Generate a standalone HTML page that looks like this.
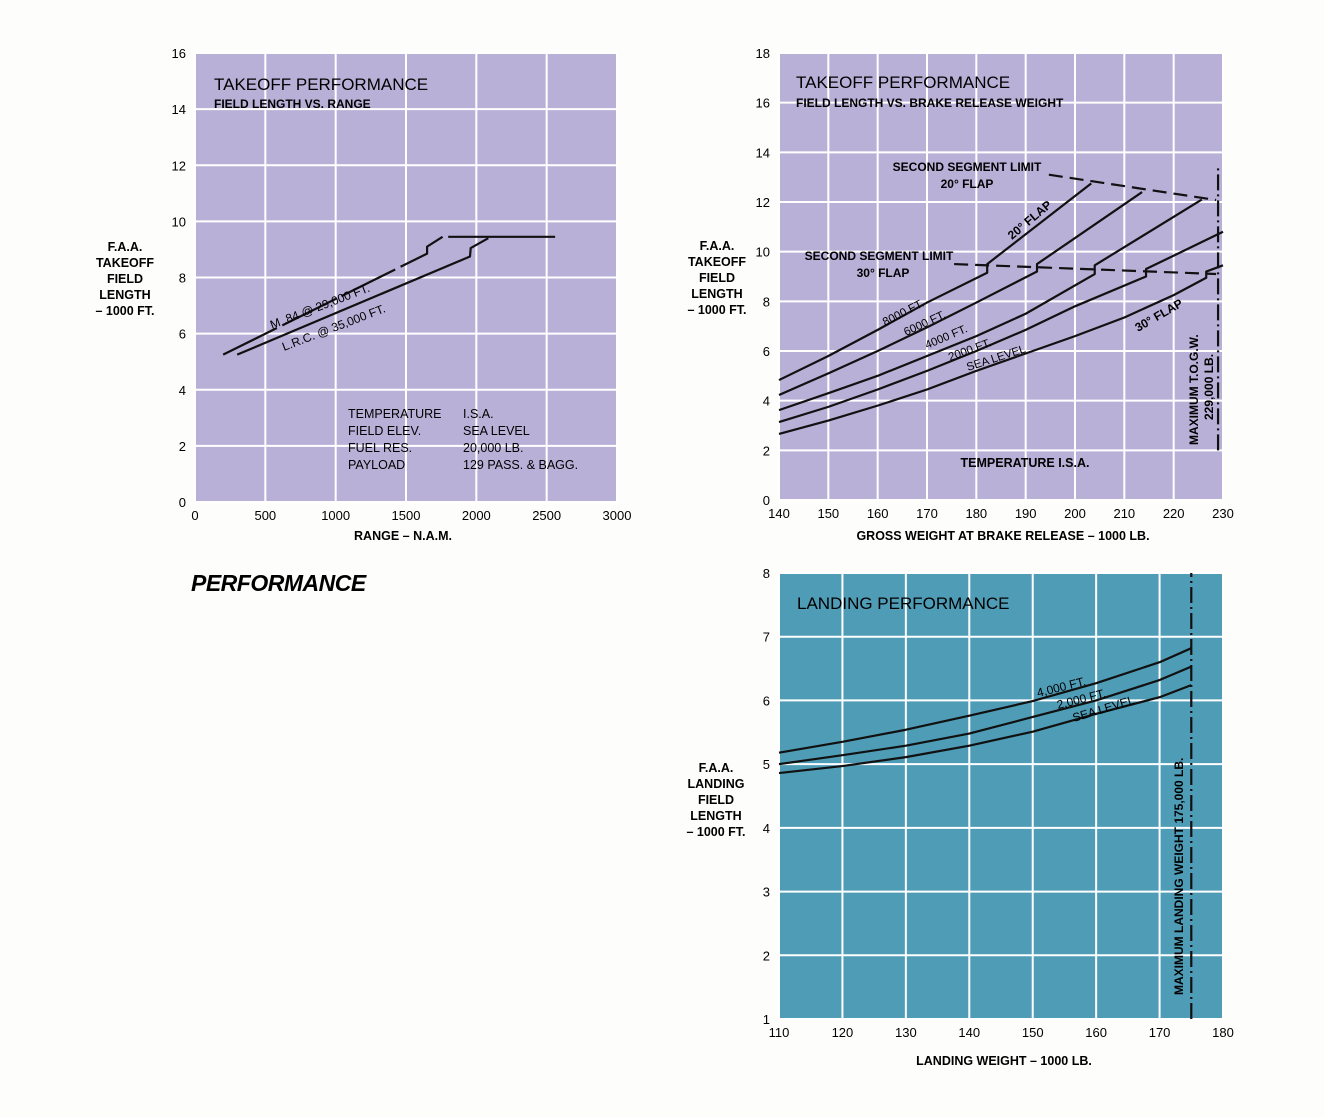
<!DOCTYPE html>
<html><head><meta charset="utf-8">
<style>
body{margin:0;background:#fff;}
svg{display:block;font-family:"Liberation Sans",sans-serif;}
</style></head>
<body>
<svg id="s" width="1324" height="1117" viewBox="0 0 1324 1117">
<rect x="0" y="0" width="1324" height="1117" fill="#fdfdfc"/>
<text x="191" y="591" font-size="23" font-weight="bold" font-style="italic" letter-spacing="-0.5">PERFORMANCE</text>
</svg>
<script>
const svgNS="http://www.w3.org/2000/svg";
const S=document.getElementById('s');
function el(tag,attrs,parent,txt){const e=document.createElementNS(svgNS,tag);for(const k in attrs)e.setAttribute(k,attrs[k]);if(txt!==undefined)e.textContent=txt;(parent||S).appendChild(e);return e;}

// ---------- Chart 1 data ----------
const c1XTicks=[0,500,1000,1500,2000,2500,3000];
const c1YTicks=[0,2,4,6,8,10,12,14,16];
const c1M84=[[200,5.25],[1650,8.85],[1650,9.1],[1760,9.45]];
const c1Cruise=[[1800,9.45],[2560,9.45]];
const c1LRC=[[300,5.25],[1955,8.75],[1960,9.05],[2085,9.4]];

// ---------- Chart 2 data ----------
const c2XTicks=[140,150,160,170,180,190,200,210,220,230];
const c2YTicks=[0,2,4,6,8,10,12,14,16,18];
const c2Alt8000=[[140,4.83],[150,5.8],[160,6.85],[170,7.95],[182.2,9.15],[182.2,9.5],[203.3,12.75]];
const c2Alt6000=[[140,4.23],[150,5.1],[160,6.0],[170,6.95],[180,7.95],[192.3,9.2],[192.3,9.5],[213.6,12.4]];
const c2Alt4000=[[140,3.62],[150,4.3],[160,5.0],[170,5.8],[180,6.6],[190,7.5],[204,9.1],[204,9.45],[225.7,12.1]];
const c2Alt2000=[[140,3.14],[150,3.75],[160,4.45],[170,5.2],[180,6.0],[190,6.85],[200,7.8],[214.4,9.0],[214.4,9.3],[230,10.8]];
const c2SeaLevel=[[140,2.66],[150,3.2],[160,3.8],[170,4.45],[180,5.2],[190,5.9],[200,6.6],[210,7.35],[220,8.25],[226.6,8.95],[226.6,9.2],[230,9.45]];
const c2Limit30=[[175.5,9.5],[228.6,9.1]];
const c2Limit20=[[194.7,13.1],[228.6,12.08]];
const c2MaxTOGW=229;

// ---------- Chart 3 data ----------
const c3XTicks=[110,120,130,140,150,160,170,180];
const c3YTicks=[1,2,3,4,5,6,7,8];
const c3Alt4000=[[110,5.18],[120,5.35],[130,5.54],[140,5.76],[150,5.99],[160,6.27],[170,6.6],[175,6.82]];
const c3Alt2000=[[110,5.0],[120,5.14],[130,5.29],[140,5.48],[150,5.74],[160,6.0],[170,6.32],[175,6.53]];
const c3SeaLevel=[[110,4.86],[120,4.97],[130,5.11],[140,5.29],[150,5.51],[160,5.79],[170,6.05],[175,6.24]];
const c3MaxLW=175;

function makeAxes(x0,x1,xmin,xmax,y0,y1,ymin,ymax){
  return {x:v=>x0+(v-xmin)/(xmax-xmin)*(x1-x0), y:v=>y0-(v-ymin)/(ymax-ymin)*(y0-y1)};
}
function panel(name,ax,xt,yt,fill,x0,x1,y0,y1){
  const g=el('g',{},S);
  
  
  el('rect',{x:x0,y:y1,width:x1-x0,height:y0-y1,fill:fill},g);
  xt.forEach(v=>{const l=el('line',{x1:ax.x(v),x2:ax.x(v),y1:y1,y2:y0,stroke:'#fff','stroke-width':2},g);
    
    const t=el('text',{x:ax.x(v),y:y0+18,'font-size':13,'text-anchor':'middle'},g,String(v));
    });
  yt.forEach(v=>{const l=el('line',{x1:x0,x2:x1,y1:ax.y(v),y2:ax.y(v),stroke:'#fff','stroke-width':2},g);
    
    const t=el('text',{x:x0-9,y:ax.y(v)+5,'font-size':13,'text-anchor':'end'},g,String(v));
    });
  return g;
}
function line(g,ax,pts,name,dash){
  const p=el('polyline',{points:pts.map(q=>ax.x(q[0])+','+ax.y(q[1])).join(' '),fill:'none',stroke:'#111','stroke-width':2.2,'stroke-linejoin':'round'},g);
  if(dash)p.setAttribute('stroke-dasharray',dash);
  
  
  return p;
}
function txt(g,x,y,s,size,name,opts){
  const a={x:x,y:y,'font-size':size,'font-weight':'bold'};
  Object.assign(a,opts||{});
  const t=el('text',a,g,s);
  
  
  return t;
}
function multi(g,x,y,lines,size,name,anchor){
  lines.forEach((s,i)=>txt(g,x,y+i*16,s,size,name,{'text-anchor':anchor||'middle'}));
}

// Chart 1
const a1=makeAxes(195,617,0,3000,502,53,0,16);
const g1=panel('chart-field-length-vs-range',a1,c1XTicks,c1YTicks,'#b9b0d7',195,617,502,53);
line(g1,a1,c1M84,'line-m84-29000ft','60 6');
line(g1,a1,c1Cruise,'line-cruise-limit');
line(g1,a1,c1LRC,'line-lrc-35000ft');
txt(g1,214,90,'TAKEOFF PERFORMANCE',17,'chart1-title',{'font-weight':'normal'});
txt(g1,214,108,'FIELD LENGTH VS. RANGE',12,'chart1-subtitle');
txt(g1,272,329,'M .84 @ 29,000 FT.',12,'label-m84',{transform:'rotate(-21 272 329)','font-weight':'normal'});
txt(g1,284,351,'L.R.C. @ 35,000 FT.',12,'label-lrc',{transform:'rotate(-21 284 351)','font-weight':'normal'});
[['TEMPERATURE','I.S.A.'],['FIELD ELEV.','SEA LEVEL'],['FUEL RES.','20,000 LB.'],['PAYLOAD','129 PASS. & BAGG.']].forEach((r,i)=>{
  txt(g1,348,418+i*17,r[0],12.5,'conditions-key',{'font-weight':'normal'});
  txt(g1,463,418+i*17,r[1],12.5,'conditions-value',{'font-weight':'normal'});
});
multi(g1,125,251,['F.A.A.','TAKEOFF','FIELD','LENGTH','– 1000 FT.'],12.5,'chart1-y-axis-title');
txt(g1,403,540,'RANGE – N.A.M.',12.5,'chart1-x-axis-title',{'text-anchor':'middle'});

// Chart 2
const a2=makeAxes(779,1223,140,230,500,53,0,18);
const g2=panel('chart-field-length-vs-weight',a2,c2XTicks,c2YTicks,'#b9b0d7',779,1223,500,53);
line(g2,a2,c2Alt8000,'line-8000ft');
line(g2,a2,c2Alt6000,'line-6000ft');
line(g2,a2,c2Alt4000,'line-4000ft');
line(g2,a2,c2Alt2000,'line-2000ft');
line(g2,a2,c2SeaLevel,'line-sea-level');
line(g2,a2,c2Limit30,'line-second-segment-30-flap','14 7');
line(g2,a2,c2Limit20,'line-second-segment-20-flap','14 7');
line(g2,a2,[[c2MaxTOGW,2],[c2MaxTOGW,13.5]],'line-max-togw','16 4 2 4');
txt(g2,796,88,'TAKEOFF PERFORMANCE',17,'chart2-title',{'font-weight':'normal'});
txt(g2,796,107,'FIELD LENGTH VS. BRAKE RELEASE WEIGHT',12,'chart2-subtitle');
txt(g2,967,171,'SECOND SEGMENT LIMIT',12,'label-20-flap-limit',{'text-anchor':'middle'});
txt(g2,967,188,'20° FLAP',12,'label-20-flap-limit',{'text-anchor':'middle'});
txt(g2,879,260,'SECOND SEGMENT LIMIT',12,'label-30-flap-limit',{'text-anchor':'middle'});
txt(g2,883,277,'30° FLAP',12,'label-30-flap-limit',{'text-anchor':'middle'});
txt(g2,1012,240,'20° FLAP',12,'label-20-flap',{transform:'rotate(-40 1012 240)'});
txt(g2,1138,332,'30° FLAP',12,'label-30-flap',{transform:'rotate(-30 1138 332)'});
txt(g2,885,326,'8000 FT.',11.5,'label-8000ft',{transform:'rotate(-27 885 326)','font-weight':'normal'});
txt(g2,906,336,'6000 FT.',11.5,'label-6000ft',{transform:'rotate(-25 906 336)','font-weight':'normal'});
txt(g2,927,349,'4000 FT.',11.5,'label-4000ft',{transform:'rotate(-23 927 349)','font-weight':'normal'});
txt(g2,950,361,'2000 FT.',11.5,'label-2000ft',{transform:'rotate(-20 950 361)','font-weight':'normal'});
txt(g2,968,371,'SEA LEVEL',11.5,'label-sea-level',{transform:'rotate(-18 968 371)','font-weight':'normal'});
txt(g2,1198,445,'MAXIMUM T.O.G.W.',12,'label-max-togw',{transform:'rotate(-90 1198 445)'});
txt(g2,1213,420,'229,000 LB.',12,'label-max-togw-value',{transform:'rotate(-90 1213 420)'});
txt(g2,1025,467,'TEMPERATURE  I.S.A.',12.5,'label-temperature',{'text-anchor':'middle'});
multi(g2,717,250,['F.A.A.','TAKEOFF','FIELD','LENGTH','– 1000 FT.'],12.5,'chart2-y-axis-title');
txt(g2,1003,540,'GROSS WEIGHT AT BRAKE RELEASE – 1000 LB.',12.5,'chart2-x-axis-title',{'text-anchor':'middle'});

// Chart 3
const a3=makeAxes(779,1223,110,180,1019,573,1,8);
const g3=panel('chart-landing-performance',a3,c3XTicks,c3YTicks,'#4f9cb6',779,1223,1019,573);
line(g3,a3,c3Alt4000,'line-landing-4000ft');
line(g3,a3,c3Alt2000,'line-landing-2000ft');
line(g3,a3,c3SeaLevel,'line-landing-sea-level');
line(g3,a3,[[c3MaxLW,1],[c3MaxLW,8]],'line-max-landing-weight','16 4 2 4');
txt(g3,797,609,'LANDING PERFORMANCE',17,'chart3-title',{'font-weight':'normal'});
txt(g3,1038,697,'4,000 FT.',12,'label-landing-4000ft',{transform:'rotate(-14 1038 697)','font-weight':'normal'});
txt(g3,1058,709,'2,000 FT.',12,'label-landing-2000ft',{transform:'rotate(-14 1058 709)','font-weight':'normal'});
txt(g3,1074,722,'SEA LEVEL',12,'label-landing-sea-level',{transform:'rotate(-17 1074 722)','font-weight':'normal'});
txt(g3,1183,995,'MAXIMUM LANDING WEIGHT  175,000 LB.',12,'label-max-landing-weight',{transform:'rotate(-90 1183 995)'});
multi(g3,716,772,['F.A.A.','LANDING','FIELD','LENGTH','– 1000 FT.'],12.5,'chart3-y-axis-title');
txt(g3,1004,1065,'LANDING WEIGHT – 1000 LB.',12.5,'chart3-x-axis-title',{'text-anchor':'middle'});
</script>
</body></html>
